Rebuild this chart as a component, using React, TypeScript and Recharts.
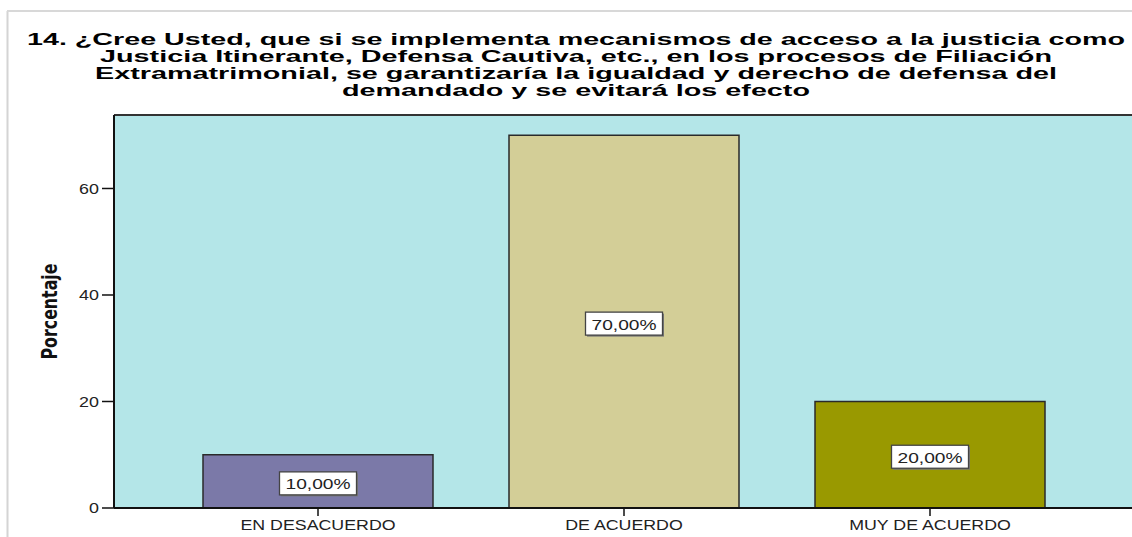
import React from 'react';
import { BarChart, Bar, XAxis, YAxis, CartesianGrid, Cell, LabelList, ReferenceLine } from 'recharts';

const categories = ['EN DESACUERDO', 'DE ACUERDO', 'MUY DE ACUERDO'];
const percentages = [10, 70, 20];
const barColors = ['#7B79A8', '#D3CE97', '#999900'];
const yTicks = [0, 20, 40, 60];
const yMax = 73.8;
const yAxisTitle = 'Porcentaje';
const titleLines = [
  '14. ¿Cree Usted, que si se implementa mecanismos de acceso a la justicia como',
  'Justicia Itinerante, Defensa Cautiva, etc., en los procesos de Filiación',
  'Extramatrimonial, se garantizaría la igualdad y derecho de defensa del',
  'demandado y se evitará los efecto',
];
const titleWidths = [1098, 952, 962, 468];

const data = categories.map((c, i) => ({ category: c, value: percentages[i] }));

const FONT = '"Liberation Sans", Arial, Helvetica, sans-serif';

const XTick = (props: any) => {
  const { x, y, payload } = props;
  return (
    <g transform={`translate(${x},${y + 12}) scale(1.27,1)`}>
      <text x={0} y={0} textAnchor="middle" fontSize={14} fill="#222" fontFamily={FONT}>
        {payload.value}
      </text>
    </g>
  );
};

const YTick = (props: any) => {
  const { x, y, payload } = props;
  return (
    <g transform={`translate(${x},${y}) scale(1.28,1)`}>
      <text x={0} y={0} dy="0.36em" textAnchor="end" fontSize={14} fill="#222" fontFamily={FONT}>
        {payload.value}
      </text>
    </g>
  );
};

const YLabel = (props: any) => {
  const vb = props.viewBox || { x: 0, y: 115, width: 114, height: 393 };
  const cx = vb.x + 57;
  const cy = vb.y + vb.height / 2;
  return (
    <text
      x={cx}
      y={cy}
      transform={`rotate(-90 ${cx} ${cy})`}
      textAnchor="middle"
      fontSize={22}
      fontWeight="bold"
      fill="#111"
      textLength={96}
      lengthAdjust="spacingAndGlyphs"
      fontFamily='"Liberation Sans Narrow", "DejaVu Sans Condensed", "Arial Narrow", sans-serif'
    >
      {yAxisTitle}
    </text>
  );
};

const ValueLabel = (props: any) => {
  const { x, y, width, height, value } = props;
  const cx = Number(x) + Number(width) / 2;
  const cy = Number(y) + Number(height) / 2 + 2;
  const txt = Number(value).toFixed(2).replace('.', ',') + '%';
  return (
    <g>
      <rect x={cx - 37} y={cy - 10} width={77} height={23} fill="#777" />
      <rect x={cx - 38.5} y={cy - 11.5} width={77} height={23} fill="#fff" stroke="#444" strokeWidth={1.3} />
      <text
        x={cx}
        y={cy + 6}
        textAnchor="middle"
        fontSize={15}
        fill="#222"
        fontFamily={FONT}
        textLength={65}
        lengthAdjust="spacingAndGlyphs"
      >
        {txt}
      </text>
    </g>
  );
};

export default function App() {
  return (
    <div style={{ position: 'absolute', left: 0, top: 0, width: 1132, height: 537, background: '#fff', overflow: 'hidden' }}>
      <BarChart
        width={1132}
        height={537}
        data={data}
        margin={{ top: 115, right: 0, bottom: 0, left: 0 }}
        barSize={230}
      >
        <CartesianGrid fill="#B4E6E8" stroke="none" horizontal={false} vertical={false} />
        <XAxis
          dataKey="category"
          height={29}
          padding={{ left: 51, right: 49 }}
          tickSize={8}
          tickMargin={2}
          tick={<XTick />}
          axisLine={{ stroke: '#111', strokeWidth: 2 }}
          tickLine={{ stroke: '#111', strokeWidth: 1.5 }}
          interval={0}
        />
        <YAxis
          width={114}
          domain={[0, yMax]}
          ticks={yTicks}
          tickSize={12}
          tickMargin={3}
          tick={<YTick />}
          axisLine={{ stroke: '#111', strokeWidth: 2 }}
          tickLine={{ stroke: '#111', strokeWidth: 1.5 }}
          label={{ content: <YLabel /> }}
        />
        <ReferenceLine y={yMax} stroke="#333" strokeWidth={2} />
        <Bar dataKey="value" stroke="#2a2a2a" strokeWidth={1.5} isAnimationActive={false}>
          {data.map((d, i) => (
            <Cell key={d.category} fill={barColors[i]} />
          ))}
          <LabelList dataKey="value" content={<ValueLabel />} />
        </Bar>
      </BarChart>
      <svg
        width={1132}
        height={537}
        style={{ position: 'absolute', left: 0, top: 0, pointerEvents: 'none' }}
      >
        <line x1={7.5} y1={11} x2={7.5} y2={537} stroke="#D4D4D4" strokeWidth={2} />
        <line x1={7} y1={11} x2={1132} y2={11} stroke="#D8D8D8" strokeWidth={2} />
        {titleLines.map((line, i) => (
          <text
            key={i}
            x={576}
            y={45 + i * 17}
            textAnchor="middle"
            fontSize={17}
            fontWeight="bold"
            fill="#000"
            fontFamily={FONT}
            textLength={titleWidths[i]}
            lengthAdjust="spacingAndGlyphs"
          >
            {line}
          </text>
        ))}
      </svg>
    </div>
  );
}
